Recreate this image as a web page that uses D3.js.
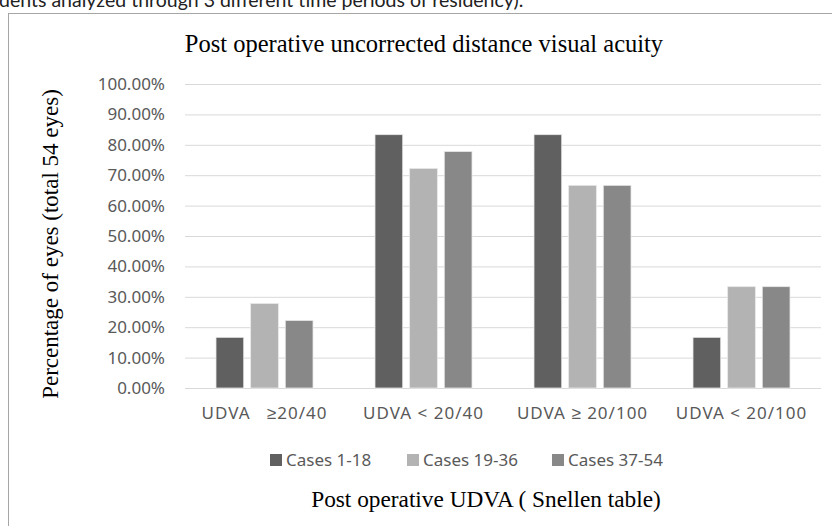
<!DOCTYPE html>
<html>
<head>
<meta charset="utf-8">
<script src="https://cdn.jsdelivr.net/npm/d3@7"></script>
<style>
  body { margin: 0; background: #fff; }
  svg { display: block; }
</style>
</head>
<body>
<div id="chart"></div>
<script>
// data
var categories = ["UDVA   \u226520/40", "UDVA < 20/40", "UDVA \u2265 20/100", "UDVA < 20/100"];
var seriesNames = ["Cases 1-18", "Cases 19-36", "Cases 37-54"];
var cases1 = [16.67, 83.33, 83.33, 16.67];
var cases2 = [27.78, 72.22, 66.67, 33.33];
var cases3 = [22.22, 77.78, 66.67, 33.33];
var yTicks = [0, 10, 20, 30, 40, 50, 60, 70, 80, 90, 100];
var colors = ["#606060", "#b3b3b3", "#888888"];

var series = [cases1, cases2, cases3];

var W = 832, H = 526;
var margin = { top: 84, right: 11, bottom: 138, left: 185 },
  width = W - margin.left - margin.right,
  height = H - margin.top - margin.bottom;

var svg = d3.select("#chart")
  .append("svg")
  .attr("width", W)
  .attr("height", H);

// caption text from the page, cut off at the top
svg.append("text")
  .attr("x", -1)
  .attr("y", 7)
  .style("font-family", "Lato, sans-serif")
  .style("font-size", "19.5px")
  .style("fill", "#222")
  .text("dents analyzed through 3 different time periods of residency).");

// chart frame
svg.append("rect")
  .attr("x", 8.5).attr("y", 13.5)
  .attr("width", W).attr("height", H)
  .style("fill", "none")
  .style("stroke", "#a6a6a6");

// title
svg.append("text")
  .attr("x", 424)
  .attr("y", 52)
  .attr("text-anchor", "middle")
  .style("font-family", "'Liberation Serif', serif")
  .style("font-size", "24.5px")
  .style("fill", "#000")
  .text("Post operative uncorrected distance visual acuity");

var g = svg.append("g")
  .attr("transform", "translate(" + margin.left + "," + margin.top + ")");

var x0 = d3.scaleBand()
  .domain(categories)
  .range([0, width])
  .paddingInner(0)
  .paddingOuter(0);

var x1 = d3.scaleBand()
  .domain(d3.range(series.length))
  .range([31, x0.bandwidth() - 31])
  .paddingInner(0.2);

var y = d3.scaleLinear()
  .domain([0, 100])
  .range([height, 0]);

// gridlines
g.append("g")
  .call(d3.axisLeft(y).tickValues(yTicks).tickSize(-width).tickFormat(""))
  .call(function (a) { a.select(".domain").remove(); })
  .selectAll(".tick line")
  .attr("stroke", "#d9d9d9");

// y tick labels
g.append("g")
  .call(d3.axisLeft(y).tickValues(yTicks).tickSize(0).tickPadding(20)
    .tickFormat(function (d) { return d.toFixed(2) + "%"; }))
  .call(function (a) { a.select(".domain").remove(); })
  .selectAll("text")
  .style("font-family", "'Noto Sans', sans-serif")
  .style("font-size", "17px")
  .style("fill", "#595959");

// bars
var groups = g.append("g")
  .selectAll("g")
  .data(categories)
  .enter()
  .append("g")
  .attr("transform", function (d) { return "translate(" + x0(d) + ",0)"; });

groups.selectAll("rect")
  .data(function (d, i) { return series.map(function (s, k) { return { k: k, v: s[i] }; }); })
  .enter()
  .append("rect")
  .attr("x", function (d) { return x1(d.k); })
  .attr("y", function (d) { return y(d.v); })
  .attr("width", x1.bandwidth())
  .attr("height", function (d) { return height - y(d.v); })
  .style("fill", function (d) { return colors[d.k]; })
  .style("stroke", "#e8e8e8")
  .style("stroke-width", 0.8);

// x axis labels
g.append("g")
  .attr("transform", "translate(0," + height + ")")
  .call(d3.axisBottom(x0).tickSize(0).tickPadding(19))
  .call(function (a) { a.select(".domain").remove(); })
  .selectAll("text")
  .style("font-family", "'Noto Sans', sans-serif")
  .style("font-size", "17px")
  .style("letter-spacing", "1px")
  .style("white-space", "pre")
  .style("fill", "#595959");

// legend
var legendX = [270, 407, 552];
var legend = svg.append("g")
  .selectAll("g")
  .data(seriesNames)
  .enter()
  .append("g")
  .attr("transform", function (d, i) { return "translate(" + legendX[i] + ",454)"; });

legend.append("rect")
  .attr("width", 12).attr("height", 12)
  .style("fill", function (d, i) { return colors[i]; });

legend.append("text")
  .attr("x", 16)
  .attr("y", 12)
  .style("font-family", "'Noto Sans', sans-serif")
  .style("font-size", "17px")
  .style("fill", "#595959")
  .text(function (d) { return d; });

// axis titles
svg.append("text")
  .attr("x", 486)
  .attr("y", 507)
  .attr("text-anchor", "middle")
  .style("font-family", "'Liberation Serif', serif")
  .style("font-size", "23.3px")
  .style("fill", "#000")
  .text("Post operative UDVA ( Snellen table)");

svg.append("text")
  .attr("transform", "translate(58,244) rotate(-90)")
  .attr("text-anchor", "middle")
  .style("font-family", "'Liberation Serif', serif")
  .style("font-size", "23px")
  .style("fill", "#000")
  .text("Percentage of eyes (total 54 eyes)");
</script>
</body>
</html>
